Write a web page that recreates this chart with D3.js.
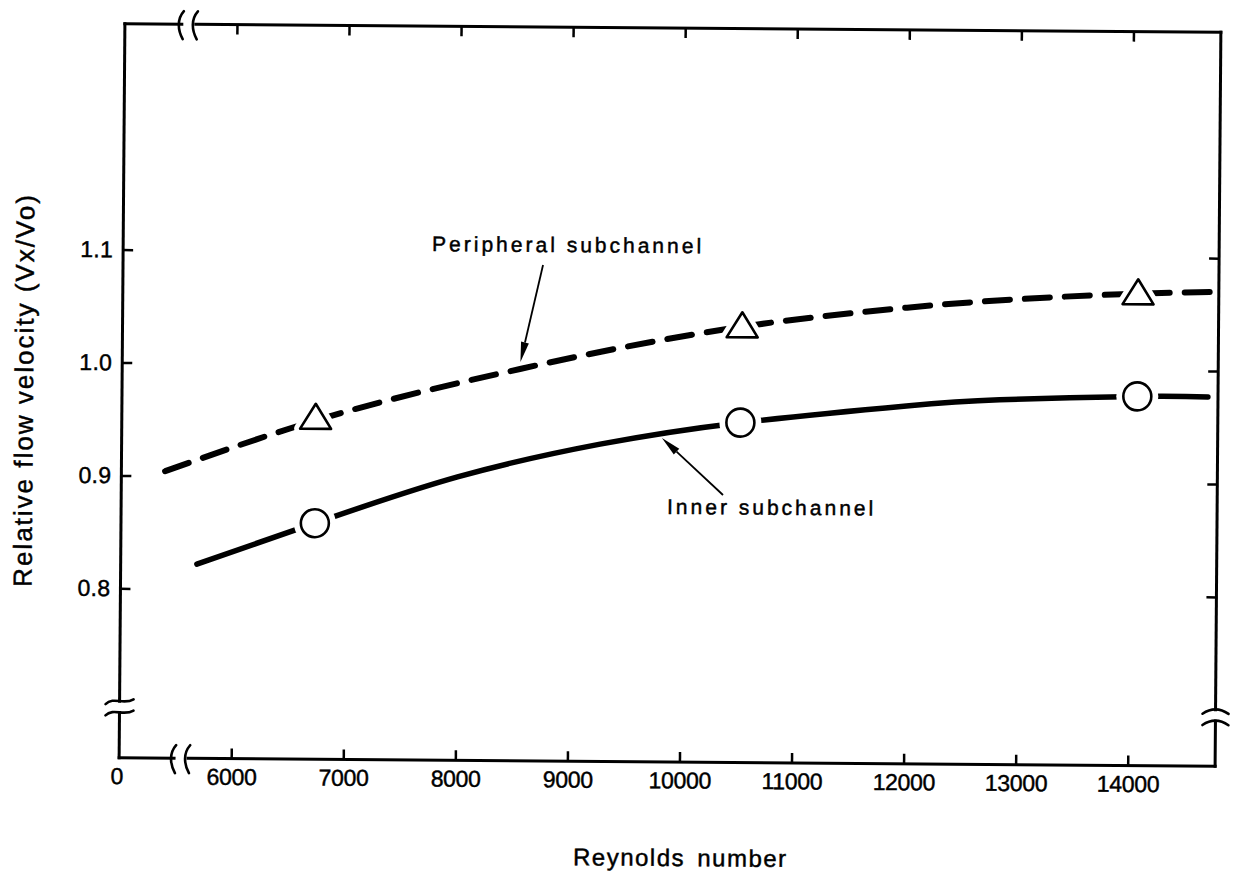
<!DOCTYPE html>
<html>
<head>
<meta charset="utf-8">
<script src="https://cdn.jsdelivr.net/npm/d3@7"></script>
<style>
  body { margin: 0; background: #fff; }
  svg { display: block; }
</style>
</head>
<body>
<svg id="chart" width="1245" height="878"></svg>
<script>
// ---- data ----
const reynoldsTicks = [6000, 7000, 8000, 9000, 10000, 11000, 12000, 13000, 14000];
const velocityTicks = [0.8, 0.9, 1.0, 1.1];

// peripheral subchannel: fitted curve and measured points
const peripheralX = [5390, 6730, 8550, 10530, 12000, 14060, 14700];
const peripheralY = [0.904, 0.950, 0.997, 1.036, 1.054, 1.068, 1.070];
const peripheralMarkX = [6730, 10530, 14060];
const peripheralMarkY = [0.950, 1.034, 1.066];

// inner subchannel: fitted curve and measured points
const innerX = [5680, 6730, 8000, 9270, 10520, 12000, 12830, 14060, 14690];
const innerY = [0.822, 0.859, 0.901, 0.931, 0.951, 0.967, 0.973, 0.977, 0.977];
const innerMarkX = [6730, 10520, 14060];
const innerMarkY = [0.859, 0.951, 0.977];

// axis breaks (in axis units)
const xBreak = [5490, 5615];
const yBreak = [0.690, 0.700];

// callouts: label anchor and arrow (tail -> head), in axis units
const calloutText = ["Peripheral subchannel", "Inner subchannel"];
const calloutLabelX = [7757, 9872];
const calloutLabelY = [1.1008, 0.8697];
const arrowTailX = [8748, 10370];
const arrowTailY = [1.0893, 0.8868];
const arrowHeadX = [8553, 9821];
const arrowHeadY = [1.0032, 0.9369];

// ---- layout ----
const W = 1245, H = 878;
const frame = { left: 122, right: 1218, top: 28, bottom: 762 };
const x = d3.scaleLinear().domain([5000, 14780]).range([frame.left, frame.right]);
const y = d3.scaleLinear().domain([0.65, 1.30]).range([frame.bottom, frame.top]);

const svg = d3.select("#chart");
svg.append("rect").attr("width", W).attr("height", H).attr("fill", "#fff");
const g = svg.append("g").attr("transform", "rotate(0.45,670,395)");

const FONT = "'Liberation Sans', Arial, Helvetica, sans-serif";
const heavy = sel => sel.attr("stroke", "#000").attr("stroke-width", 0.45).attr("fill", "#000");

// ---- frame with breaks ----
const frameG = g.append("g").attr("stroke", "#000").attr("stroke-width", 3)
  .attr("fill", "none").attr("stroke-linecap", "square");
const xb0 = x(xBreak[0]), xb1 = x(xBreak[1]);
const yb0 = y(yBreak[0]), yb1 = y(yBreak[1]);
const segs = [
  [frame.left, frame.bottom, xb0, frame.bottom],
  [xb1, frame.bottom, frame.right, frame.bottom],
  [frame.left, frame.top, xb0 + 2, frame.top],
  [xb1 + 2, frame.top, frame.right, frame.top],
  [frame.left, frame.bottom, frame.left, yb0],
  [frame.left, yb1, frame.left, frame.top],
  [frame.right, frame.bottom, frame.right, yb0],
  [frame.right, yb1, frame.right, frame.top]
];
frameG.selectAll("line").data(segs).join("line")
  .attr("x1", d => d[0]).attr("y1", d => d[1])
  .attr("x2", d => d[2]).attr("y2", d => d[3]);

// break marks
const brk = g.append("g").attr("stroke", "#000").attr("stroke-width", 2.6).attr("fill", "none")
  .attr("stroke-linecap", "round");
function vSquiggle(cx, cy) {
  return `M${cx + 2},${cy - 13} C${cx - 5},${cy - 5} ${cx - 4},${cy + 6} ${cx + 1},${cy + 15}`;
}
function hTilde(cx, cy) {
  return `M${cx - 14},${cy + 3} C${cx - 6},${cy - 5} ${cx + 4},${cy + 4} ${cx + 14},${cy - 2}`;
}
function hArc(cx, cy) {
  return `M${cx - 13},${cy + 4} Q${cx},${cy - 5} ${cx + 13},${cy + 4}`;
}
[xb0, xb1].forEach(xx => {
  brk.append("path").attr("d", vSquiggle(xx, frame.bottom));
  brk.append("path").attr("d", vSquiggle(xx + 2, frame.top));
});
[yb0, yb1].forEach(yy => {
  brk.append("path").attr("d", hTilde(frame.left, yy));
  brk.append("path").attr("d", hArc(frame.right, yy));
});

// ---- axes (ticks point inward) ----
function styleAxis(sel, fontSize, spacing) {
  sel.select(".domain").remove();
  sel.selectAll(".tick line").attr("stroke", "#000").attr("stroke-width", 2.5);
  sel.selectAll(".tick text")
    .attr("font-family", FONT).attr("font-size", fontSize)
    .attr("letter-spacing", spacing).call(heavy);
}
g.append("g").attr("transform", `translate(0,${frame.bottom})`)
  .call(d3.axisBottom(x).tickValues(reynoldsTicks).tickSize(-10).tickPadding(10).tickFormat(d3.format("d")))
  .call(s => styleAxis(s, 23, -0.3));
g.append("g").attr("transform", `translate(0,${frame.top})`)
  .call(d3.axisTop(x).tickValues(reynoldsTicks).tickSize(-10).tickFormat(""))
  .call(s => styleAxis(s, 22, 0));
g.append("g").attr("transform", `translate(${frame.left},0)`)
  .call(d3.axisLeft(y).tickValues(velocityTicks).tickSize(-10).tickPadding(10).tickFormat(d3.format(".1f")))
  .call(s => styleAxis(s, 23, 0.3));
g.append("g").attr("transform", `translate(${frame.right},0)`)
  .call(d3.axisRight(y).tickValues(velocityTicks).tickSize(-10).tickFormat(""))
  .call(s => styleAxis(s, 22, 0));

// origin label of the broken x axis
g.append("text").attr("x", x(5000) - 2).attr("y", frame.bottom + 10).attr("dy", "0.71em")
  .attr("text-anchor", "middle").attr("font-family", FONT).attr("font-size", 23)
  .call(heavy).text("0");

// ---- axis titles ----
g.append("text").attr("x", (frame.left + frame.right) / 2 + 14).attr("y", 866)
  .attr("text-anchor", "middle").attr("font-family", FONT).attr("font-size", 24)
  .attr("letter-spacing", 1.5).attr("word-spacing", 4).call(heavy)
  .text("Reynolds number");
g.append("text").attr("transform", `translate(33,${(frame.top + frame.bottom) / 2}) rotate(-90)`)
  .attr("text-anchor", "middle").attr("font-family", FONT).attr("font-size", 26)
  .attr("letter-spacing", 2).call(heavy)
  .text("Relative flow velocity (Vx/Vo)");

// ---- curves ----
const periLine = d3.line().x(d => x(d[0])).y(d => y(d[1])).curve(d3.curveMonotoneX);
const innerLine = d3.line().x(d => x(d[0])).y(d => y(d[1])).curve(d3.curveNatural);
const periPts = peripheralX.map((v, i) => [v, peripheralY[i]]);
const innerPts = innerX.map((v, i) => [v, innerY[i]]);

g.append("path").attr("d", periLine(periPts)).attr("fill", "none").attr("stroke", "#000")
  .attr("stroke-width", 6).attr("stroke-dasharray", "25,15").attr("stroke-linecap", "round");
g.append("path").attr("d", innerLine(innerPts)).attr("fill", "none").attr("stroke", "#000")
  .attr("stroke-width", 5.5).attr("stroke-linecap", "round");

// ---- markers (white halo cuts the line around each symbol) ----
const tri = (cx, cy, w, h) => {
  const top = cy - h * 2 / 3, bot = cy + h / 3;
  return `M${cx},${top} L${cx + w / 2},${bot} L${cx - w / 2},${bot} Z`;
};
const periMarks = peripheralMarkX.map((v, i) => [v, peripheralMarkY[i]]);
g.selectAll(".tri-halo").data(periMarks).join("path").attr("class", "tri-halo")
  .attr("d", d => tri(x(d[0]), y(d[1]), 31, 25))
  .attr("fill", "#fff").attr("stroke", "#fff").attr("stroke-width", 12).attr("stroke-linejoin", "round");
g.selectAll(".tri").data(periMarks).join("path").attr("class", "tri")
  .attr("d", d => tri(x(d[0]), y(d[1]), 31, 25))
  .attr("fill", "#fff").attr("stroke", "#000").attr("stroke-width", 2.6).attr("stroke-linejoin", "round");

const innerMarks = innerMarkX.map((v, i) => [v, innerMarkY[i]]);
g.selectAll(".circ-halo").data(innerMarks).join("circle").attr("class", "circ-halo")
  .attr("cx", d => x(d[0])).attr("cy", d => y(d[1])).attr("r", 21).attr("fill", "#fff");
g.selectAll(".circ").data(innerMarks).join("circle").attr("class", "circ")
  .attr("cx", d => x(d[0])).attr("cy", d => y(d[1])).attr("r", 14)
  .attr("fill", "#fff").attr("stroke", "#000").attr("stroke-width", 2.6);

// ---- callouts ----
calloutText.forEach((t, i) => {
  g.append("text").attr("x", x(calloutLabelX[i])).attr("y", y(calloutLabelY[i]))
    .attr("font-family", FONT).attr("font-size", 21).attr("letter-spacing", 3)
    .call(heavy).text(t);
  const x1 = x(arrowTailX[i]), y1 = y(arrowTailY[i]);
  const x2 = x(arrowHeadX[i]), y2 = y(arrowHeadY[i]);
  const ang = Math.atan2(y2 - y1, x2 - x1);
  const len = 20, half = 4;
  const bx = x2 - len * Math.cos(ang), by = y2 - len * Math.sin(ang);
  const px = -Math.sin(ang) * half, py = Math.cos(ang) * half;
  g.append("line").attr("x1", x1).attr("y1", y1).attr("x2", bx).attr("y2", by)
    .attr("stroke", "#000").attr("stroke-width", 1.8);
  g.append("path")
    .attr("d", `M${x2},${y2} L${bx + px},${by + py} L${bx - px},${by - py} Z`)
    .attr("fill", "#000");
});
</script>
</body>
</html>
